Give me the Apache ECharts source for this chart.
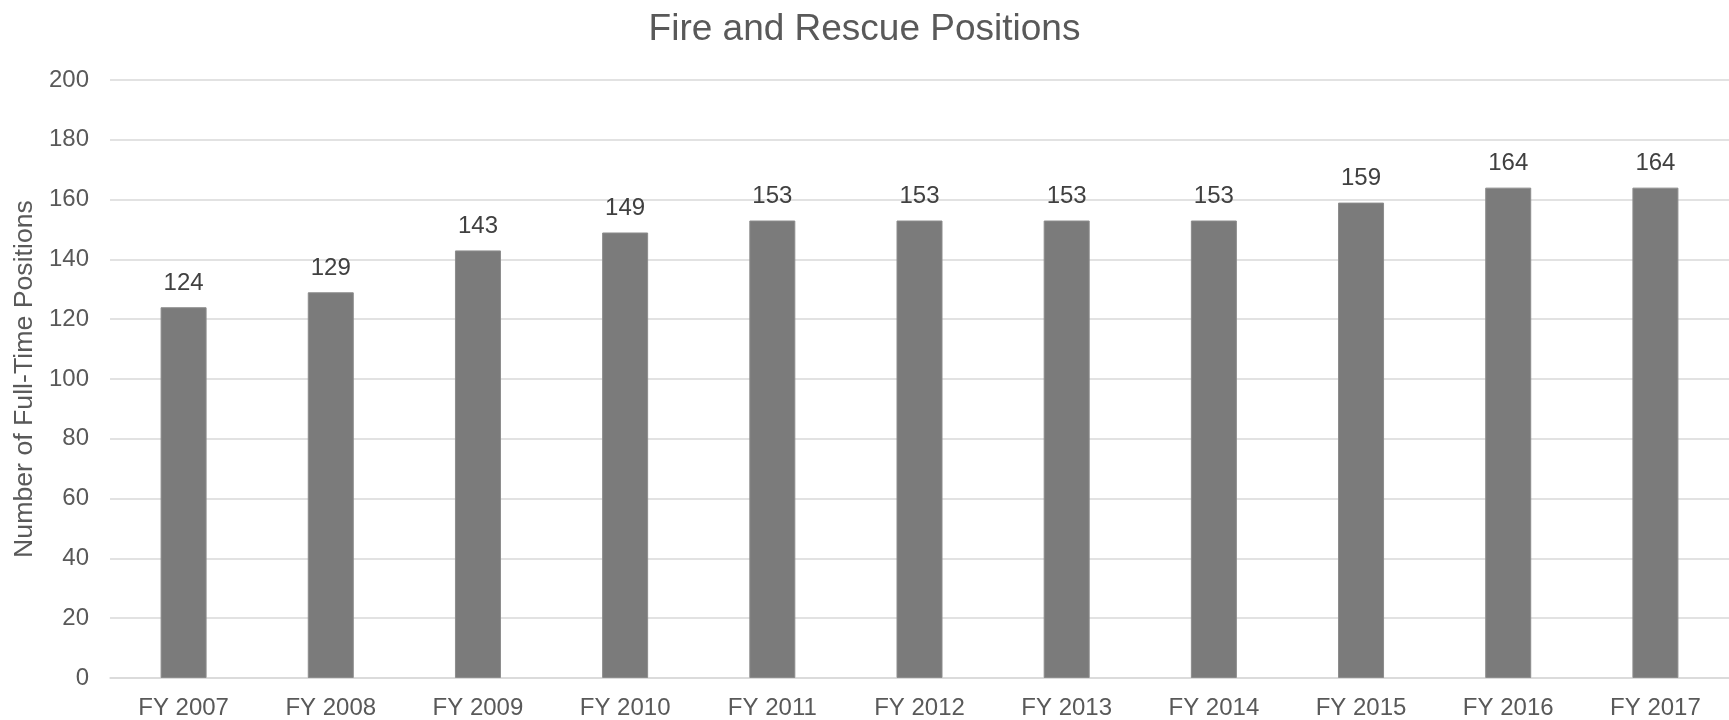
<!DOCTYPE html>
<html>
<head>
<meta charset="utf-8">
<script src="https://cdn.jsdelivr.net/npm/echarts@6/dist/echarts.min.js"></script>
<style>
  html, body { margin: 0; padding: 0; background: #fff; }
  #chart { width: 1729px; height: 720px; }
</style>
</head>
<body>
<div id="chart"></div>
<script>
const years = ['FY 2007', 'FY 2008', 'FY 2009', 'FY 2010', 'FY 2011', 'FY 2012',
               'FY 2013', 'FY 2014', 'FY 2015', 'FY 2016', 'FY 2017'];
const positions = [124, 129, 143, 149, 153, 153, 153, 153, 159, 164, 164];

const chart = echarts.init(document.getElementById('chart'));
const font = 'Liberation Sans, Arial, sans-serif';

const option = {
  backgroundColor: '#ffffff',
  animation: false,
  title: {
    text: 'Fire and Rescue Positions',
    left: 'center',
    top: 6,
    textStyle: { color: '#595959', fontSize: 37, fontWeight: 'normal', fontFamily: font }
  },
  grid: { left: 110, right: -3, top: 80, bottom: 40, containLabel: false },
  xAxis: {
    type: 'category',
    data: years,
    axisLine: { show: true, lineStyle: { color: '#d9d9d9', width: 1.5 } },
    axisTick: { show: false },
    axisLabel: { color: '#595959', fontSize: 24, fontFamily: font, margin: 18 }
  },
  yAxis: {
    type: 'value',
    min: 0,
    max: 200,
    interval: 20,
    name: 'Number of Full-Time Positions',
    nameLocation: 'middle',
    nameGap: 70,
    nameTextStyle: { color: '#595959', fontSize: 26.7, fontFamily: font },
    axisLine: { show: false },
    axisTick: { show: false },
    axisLabel: { color: '#595959', fontSize: 24, fontFamily: font, margin: 21 },
    splitLine: { lineStyle: { color: '#d9d9d9', width: 1.5 } }
  },
  series: [{
    type: 'bar',
    data: positions,
    barWidth: 46,
    itemStyle: { color: '#7b7b7b', borderColor: '#8c8c8c', borderWidth: 1 },
    label: {
      show: true,
      position: 'top',
      distance: 12,
      color: '#404040',
      fontSize: 24,
      fontFamily: font
    }
  }]
};

chart.setOption(option);
window.onresize = chart.resize;
</script>
</body>
</html>
